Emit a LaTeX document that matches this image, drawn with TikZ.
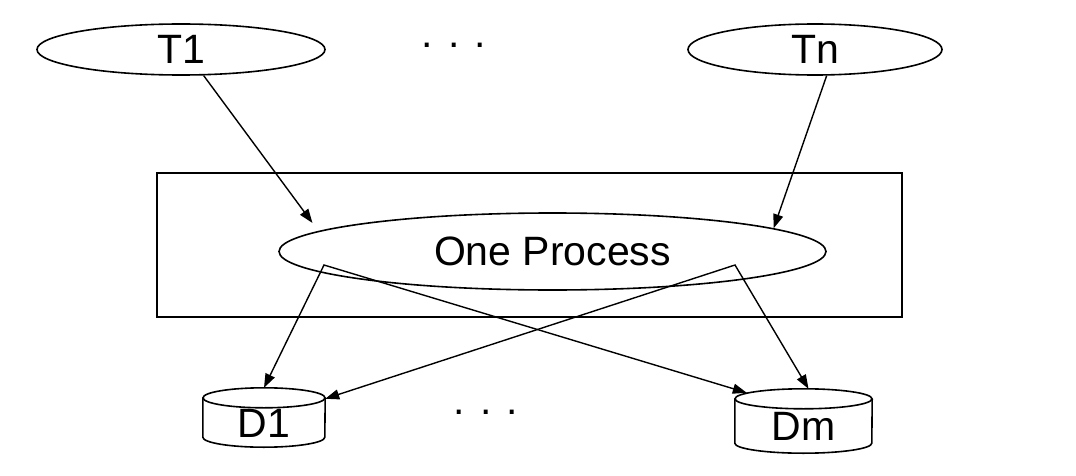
\documentclass[tikz,border=0pt]{standalone}
\usepackage{fontspec}
\setmainfont{Liberation Sans}
\usetikzlibrary{shapes.geometric,arrows.meta}
% name, x, y, width, height, text
\newcommand{\disknode}[6]{%
  \node[disk,minimum width=#4pt,minimum height=#5pt] (#1) at (#2,#3) {#6};
  \draw[diskline] ([yshift=-10pt]#1.north west) -- ([yshift=10pt]#1.south west)
    arc[start angle=180,end angle=360,x radius=#4pt/2,y radius=10pt]
    -- ([yshift=-10pt]#1.north east);
  \draw[diskline] ([yshift=-10pt]#1.north) ellipse[x radius=#4pt/2,y radius=10pt];
}

\begin{document}
\begin{tikzpicture}[x=1pt,y=-1pt,
    task/.style={ellipse,draw,line width=1.6pt,inner sep=0pt,font=\fontsize{41}{48}\selectfont},
    disk/.style={inner sep=0pt,text height=39pt,text depth=0pt,font=\fontsize{41}{48}\selectfont},
    diskline/.style={line width=1.6pt},
    arr/.style={-{Triangle[length=14pt,width=10pt]},line width=1.4pt},
    twoarr/.style={{Triangle[length=14pt,width=10pt]}-{Triangle[length=14pt,width=10pt]},line width=1.4pt},
    dots/.style={anchor=base,font=\fontsize{41}{48}\selectfont}]
  \useasboundingbox (0,0) rectangle (1076,476);
  \node[task,minimum width=288pt,minimum height=51pt] (T1) at (181,49.5) {T1};
  \node[task,minimum width=254pt,minimum height=51pt] (Tn) at (815,49.5) {Tn};
  \node[dots] (dotsT) at (454,48) {. . .};
  \node[draw,line width=1.6pt,minimum width=745pt,minimum height=144pt] (box) at (529.5,245) {};
  \node[task,minimum width=547pt,minimum height=77pt] (proc) at (552.5,251.5) {One Process};
  \disknode{D1}{264}{417.5}{122}{59}{D1}
  \disknode{Dm}{803.5}{421}{137}{64}{Dm}
  \node[dots] (dotsB) at (486,414) {. . .};
  \coordinate (pL) at (324,265);
  \coordinate (pR) at (735,265);
  \draw[arr,shorten >=10pt] (T1.-49) -- (proc.175.3);
  \draw[arr] (Tn.-66.7) -- (proc.6.3);
  \draw[twoarr] (D1.north) -- (pL) -- ([xshift=12pt,yshift=-4pt]Dm.north west);
  \draw[twoarr] ([yshift=-11pt]D1.north east) -- (pR) -- ([xshift=5pt]Dm.north);
\end{tikzpicture}
\end{document}
